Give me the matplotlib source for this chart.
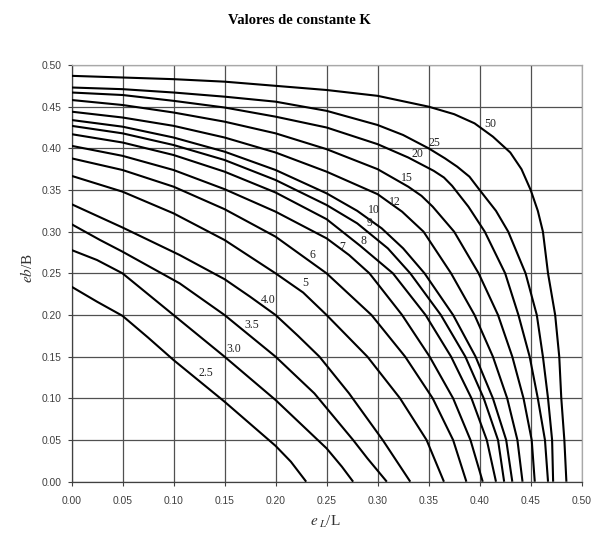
import matplotlib
matplotlib.use('Agg')
import matplotlib.pyplot as plt
from matplotlib.ticker import FormatStrFormatter

plt.rcParams['mathtext.fontset'] = 'stix'

# ---- data (eL/L, eb/B) ----
K_2_5_x = [0.000, 0.025, 0.050, 0.075, 0.100, 0.123, 0.150, 0.200, 0.215, 0.230]
K_2_5_y = [0.234, 0.216, 0.199, 0.173, 0.146, 0.123, 0.096, 0.043, 0.024, 0.000]

K_3_0_x = [0.000, 0.025, 0.050, 0.100, 0.150, 0.200, 0.250, 0.265, 0.276]
K_3_0_y = [0.278, 0.266, 0.250, 0.200, 0.150, 0.098, 0.040, 0.018, 0.000]

K_3_5_x = [0.000, 0.028, 0.050, 0.106, 0.150, 0.175, 0.200, 0.238, 0.276, 0.290, 0.309]
K_3_5_y = [0.309, 0.290, 0.276, 0.238, 0.200, 0.175, 0.150, 0.106, 0.050, 0.028, 0.000]

K_4_0_x = [0.000, 0.050, 0.106, 0.150, 0.175, 0.200, 0.222, 0.243, 0.272, 0.305, 0.332]
K_4_0_y = [0.333, 0.305, 0.272, 0.243, 0.222, 0.200, 0.175, 0.150, 0.106, 0.050, 0.000]

K_5_x = [0.000, 0.050, 0.100, 0.150, 0.200, 0.227, 0.250, 0.290, 0.322, 0.348, 0.365]
K_5_y = [0.367, 0.348, 0.322, 0.290, 0.250, 0.227, 0.200, 0.150, 0.100, 0.050, 0.000]

K_6_x = [0.000, 0.050, 0.100, 0.150, 0.200, 0.250, 0.294, 0.327, 0.354, 0.374, 0.387]
K_6_y = [0.388, 0.374, 0.354, 0.327, 0.294, 0.250, 0.200, 0.150, 0.100, 0.050, 0.000]

K_7_x = [0.000, 0.050, 0.100, 0.150, 0.200, 0.250, 0.272, 0.292, 0.324, 0.351, 0.374, 0.391, 0.403]
K_7_y = [0.403, 0.391, 0.374, 0.351, 0.324, 0.292, 0.272, 0.250, 0.200, 0.150, 0.100, 0.050, 0.000]

K_8_x = [0.000, 0.050, 0.100, 0.150, 0.200, 0.250, 0.283, 0.315, 0.347, 0.372, 0.392, 0.407, 0.416]
K_8_y = [0.417, 0.407, 0.392, 0.372, 0.347, 0.315, 0.283, 0.250, 0.200, 0.150, 0.100, 0.050, 0.000]

K_9_x = [0.000, 0.050, 0.100, 0.150, 0.200, 0.250, 0.280, 0.295, 0.310, 0.332, 0.362, 0.386, 0.404, 0.418, 0.424]
K_9_y = [0.427, 0.418, 0.404, 0.386, 0.362, 0.332, 0.310, 0.295, 0.280, 0.250, 0.200, 0.150, 0.100, 0.050, 0.000]

K_10_x = [0.000, 0.050, 0.100, 0.150, 0.200, 0.250, 0.280, 0.304, 0.325, 0.346, 0.374, 0.396, 0.413, 0.426, 0.432]
K_10_y = [0.434, 0.426, 0.413, 0.396, 0.374, 0.346, 0.325, 0.304, 0.280, 0.250, 0.200, 0.150, 0.100, 0.050, 0.000]

K_12_x = [0.000, 0.050, 0.100, 0.150, 0.200, 0.250, 0.300, 0.324, 0.345, 0.372, 0.395, 0.413, 0.427, 0.437, 0.442]
K_12_y = [0.444, 0.437, 0.427, 0.413, 0.395, 0.372, 0.345, 0.324, 0.300, 0.250, 0.200, 0.150, 0.100, 0.050, 0.000]

K_15_x = [0.000, 0.050, 0.100, 0.150, 0.200, 0.250, 0.300, 0.330, 0.343, 0.354, 0.375, 0.399, 0.418, 0.432, 0.443, 0.451, 0.454]
K_15_y = [0.458, 0.452, 0.443, 0.432, 0.418, 0.399, 0.375, 0.354, 0.343, 0.330, 0.300, 0.250, 0.200, 0.150, 0.100, 0.050, 0.000]

K_20_x = [0.000, 0.050, 0.100, 0.150, 0.200, 0.250, 0.300, 0.330, 0.355, 0.365, 0.373, 0.389, 0.405, 0.425, 0.438, 0.449, 0.457, 0.464, 0.467]
K_20_y = [0.467, 0.464, 0.457, 0.449, 0.438, 0.425, 0.405, 0.389, 0.373, 0.365, 0.355, 0.330, 0.300, 0.250, 0.200, 0.150, 0.100, 0.050, 0.000]

K_25_x = [0.000, 0.050, 0.100, 0.150, 0.200, 0.250, 0.300, 0.325, 0.350, 0.366, 0.378, 0.390, 0.400, 0.416, 0.428, 0.445, 0.456, 0.462, 0.467, 0.471, 0.472]
K_25_y = [0.473, 0.471, 0.467, 0.462, 0.456, 0.445, 0.428, 0.416, 0.400, 0.388, 0.378, 0.366, 0.350, 0.325, 0.300, 0.250, 0.200, 0.150, 0.100, 0.050, 0.000]

K_50_x = [0.000, 0.050, 0.100, 0.150, 0.200, 0.250, 0.300, 0.350, 0.375, 0.395, 0.413, 0.430, 0.441, 0.450, 0.457, 0.462, 0.467, 0.474, 0.478, 0.480, 0.483, 0.485]
K_50_y = [0.487, 0.485, 0.483, 0.480, 0.475, 0.470, 0.463, 0.450, 0.441, 0.430, 0.414, 0.395, 0.375, 0.350, 0.325, 0.300, 0.250, 0.200, 0.150, 0.100, 0.050, 0.000]

curve_labels = ['2.5', '3.0', '3.5', '4.0', '5', '6', '7', '8', '9', '10', '12', '15', '20', '25', '50']
label_x = [0.132, 0.159, 0.177, 0.193, 0.229, 0.236, 0.265, 0.286, 0.292, 0.296, 0.317, 0.3285, 0.339, 0.356, 0.410]
label_y = [0.130, 0.159, 0.188, 0.218, 0.238, 0.272, 0.282, 0.289, 0.311, 0.326, 0.336, 0.365, 0.393, 0.407, 0.429]

tick_values = [0.00, 0.05, 0.10, 0.15, 0.20, 0.25, 0.30, 0.35, 0.40, 0.45, 0.50]

curves = [
    (K_2_5_x, K_2_5_y), (K_3_0_x, K_3_0_y), (K_3_5_x, K_3_5_y), (K_4_0_x, K_4_0_y),
    (K_5_x, K_5_y), (K_6_x, K_6_y), (K_7_x, K_7_y), (K_8_x, K_8_y), (K_9_x, K_9_y),
    (K_10_x, K_10_y), (K_12_x, K_12_y), (K_15_x, K_15_y), (K_20_x, K_20_y),
    (K_25_x, K_25_y), (K_50_x, K_50_y),
]

W, H = 598, 535
fig = plt.figure(figsize=(W / 100, H / 100), dpi=100)
fig.patch.set_facecolor('white')
ax = fig.add_axes([71.5 / W, 53.3 / H, (581.7 - 71.5) / W, (481.7 - 65.0) / H])

for xs, ys in curves:
    ax.plot(xs, ys, color='black', lw=1.5, solid_joinstyle='round', solid_capstyle='butt', zorder=3)

for lab, lx, ly in zip(curve_labels, label_x, label_y):
    ax.text(lx, ly, lab, fontsize=8.5, family='Liberation Serif', color='#222222',
            ha='center', va='center', zorder=4)

ax.set_xlim(0, 0.5)
ax.set_ylim(0, 0.5)
ax.set_xticks(tick_values)
ax.set_yticks(tick_values)
ax.xaxis.set_major_formatter(FormatStrFormatter('%.2f'))
ax.yaxis.set_major_formatter(FormatStrFormatter('%.2f'))
ax.grid(True, color='#505050', lw=0.9, zorder=1)
ax.set_axisbelow(True)

for side in ['top', 'right']:
    ax.spines[side].set_color('#a8a8a8')
    ax.spines[side].set_linewidth(0.9)
for side in ['left', 'bottom']:
    ax.spines[side].set_color('#404040')
    ax.spines[side].set_linewidth(0.9)

ax.tick_params(axis='both', direction='out', length=3, width=0.8, color='#404040',
               labelsize=7.4, labelcolor='#404040')
ax.tick_params(axis='x', pad=7)
ax.tick_params(axis='y', pad=4)
for lbl in ax.get_xticklabels() + ax.get_yticklabels():
    lbl.set_family('Liberation Sans')

fig.text(0.5, 1 - 20 / H, 'Valores de constante K', ha='center', va='center',
         fontsize=10.5, fontweight='bold', family='Liberation Serif')
fig.text(325 / W, 1 - 522 / H, r'$e_{\ L}$/L', ha='center', va='center',
         fontsize=11, family='Liberation Serif', color='#333333')
fig.text(27 / W, 1 - 268 / H, r'$eb$/B', ha='center', va='center', rotation=90,
         fontsize=11, family='Liberation Serif', color='#333333')

fig.savefig('out.png', dpi=100, facecolor='white')
